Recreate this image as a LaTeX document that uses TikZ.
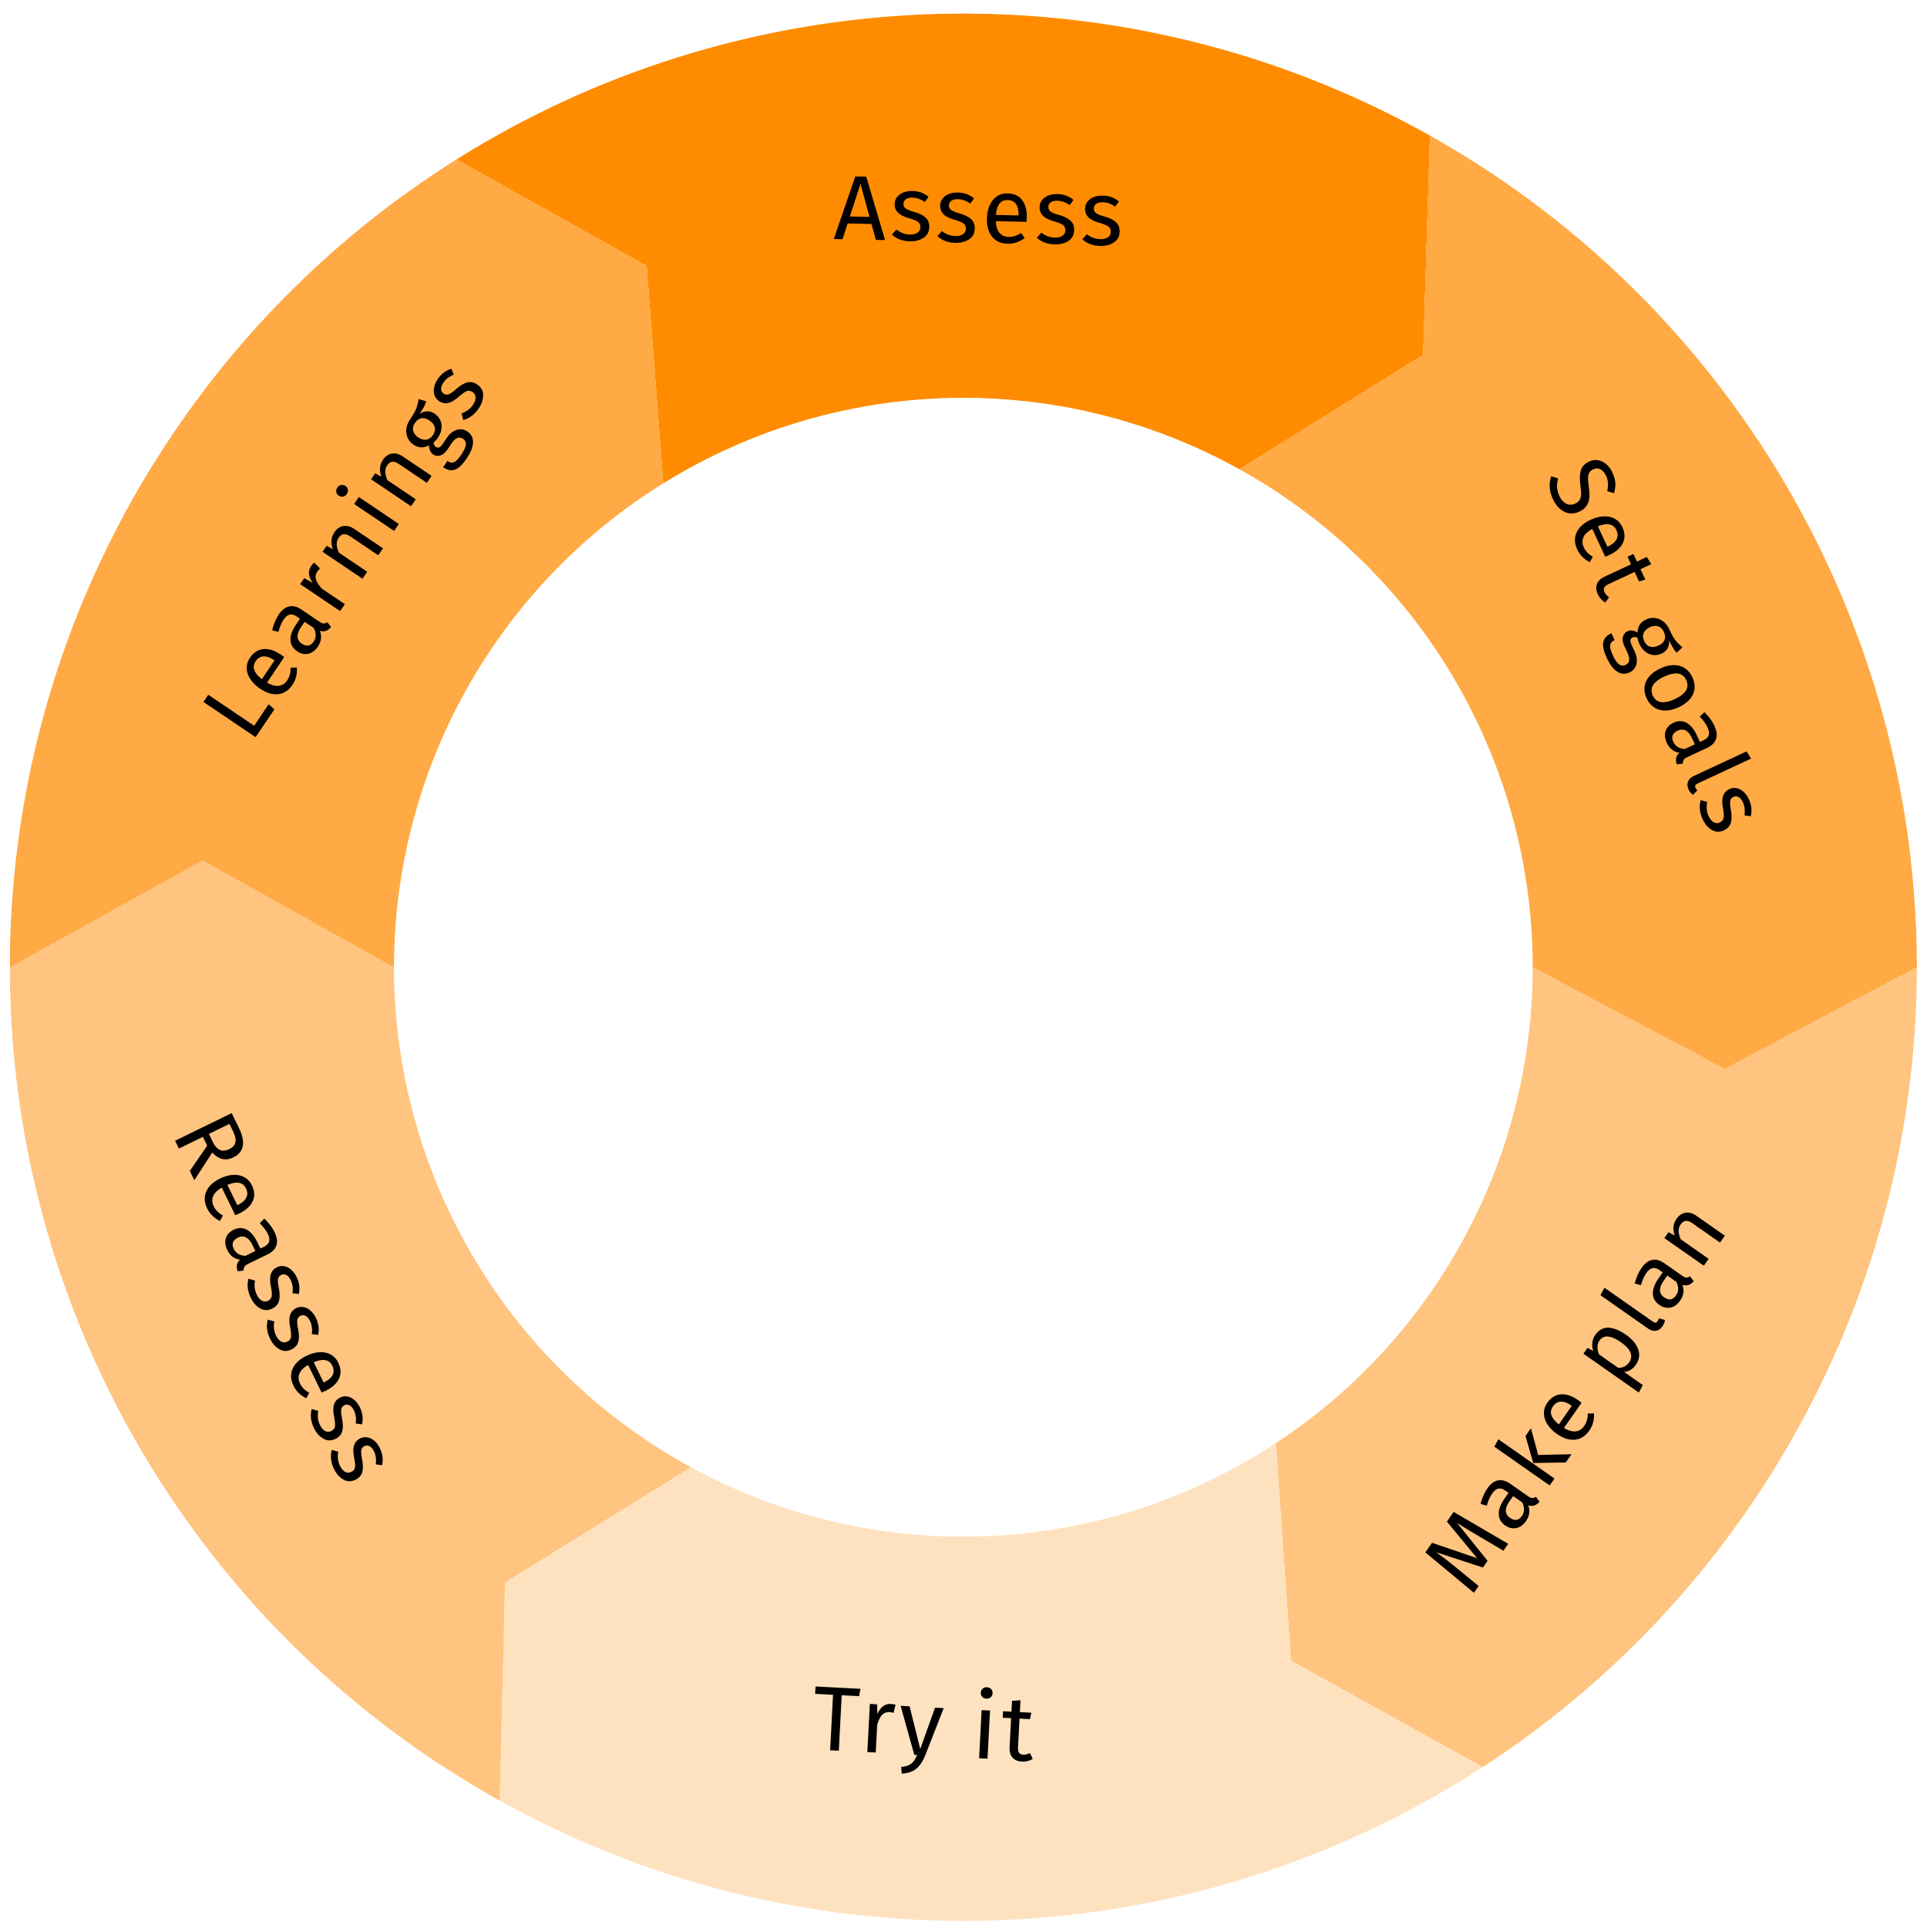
\documentclass[tikz,border=0pt]{standalone}
\usepackage{fontspec}
\setmainfont{Fira Sans}[LetterSpace=4]
\begin{document}
\begin{tikzpicture}
\definecolor{cA}{HTML}{FF8C00}
\definecolor{cB}{HTML}{FFAA44}
\definecolor{cC}{HTML}{FFC47F}
\definecolor{cD}{HTML}{FEE2C0}
\tikzset{lbl/.style={font=\fontsize{37}{44}\selectfont, text=black, inner sep=0pt}}
\useasboundingbox (-390pt,-390.5pt) rectangle (390pt,391.5pt);
\newcommand\seg[9]{%
  \fill[#9] (#1:386pt) arc[start angle=#1, end angle=#5, radius=386pt]
    -- (#6:#7pt) -- (#8:230.5pt) arc[start angle=#8, end angle=#4, radius=230.5pt]
    -- (#2:#3pt) -- cycle;}
\seg{122.1}{114.3}{311.5}{121.8}{60.7}{53.1}{310}{61}{cA}
\seg{60.7}{53.1}{310}{61}{0}{-7.6}{311}{0}{cB}
\seg{0}{-7.6}{311}{0}{-57}{-64.7}{310.5}{-56.7}{cC}
\seg{-57}{-64.7}{310.5}{-56.7}{-119.1}{-126.7}{310.5}{-118.6}{cD}
\seg{240.9}{233.3}{310.5}{241.4}{180}{172}{311}{180}{cC}
\seg{180}{172}{311}{180}{122.1}{114.3}{311.5}{121.8}{cB}
\node[lbl, rotate=-1.2] (assess) at (88.8:306pt) {Assess};
\node[lbl, rotate=-65] (goals) at (24.9:307pt) {Set goals};
\node[lbl, rotate=55] (plan) at (-35:305pt) {Make plan};
\node[lbl, rotate=-3] (try) at (-93:309pt) {Try it};
\node[lbl, rotate=-64] (re) at (-154:305pt) {Reassess};
\node[lbl, rotate=56] (learn) at (146:300pt) {Learnings};
\end{tikzpicture}
\end{document}
